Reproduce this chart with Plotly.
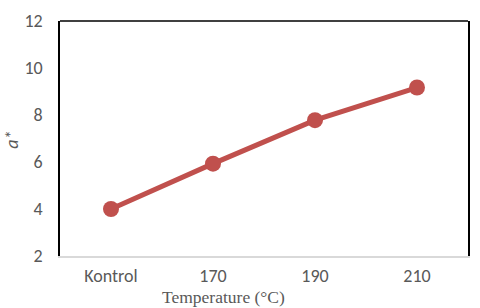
import plotly.graph_objects as go

categories = ["Kontrol", "170", "190", "210"]
a_star = [4.0, 5.93, 7.78, 9.17]
y_ticks = [2, 4, 6, 8, 10, 12]

W, H = 480, 308
L, R, T, B = 60, 10, 16, 52
pw, ph = W - L - R, H - T - B

fig = go.Figure()
fig.add_trace(go.Scatter(
    x=categories, y=a_star, mode="lines+markers",
    line=dict(color="#C0504D", width=5),
    marker=dict(color="#C0504D", size=16),
    showlegend=False, cliponaxis=False, hoverinfo="skip",
))

tick_font = dict(family="Carlito, Calibri, Liberation Sans, sans-serif", size=18, color="#595959")

fig.update_layout(
    width=W, height=H,
    margin=dict(l=L, r=R, t=T, b=B),
    paper_bgcolor="white", plot_bgcolor="white",
    font=tick_font,
    xaxis=dict(type="category", range=[-0.5, 3.5], showgrid=False, zeroline=False,
               showline=True, linecolor="#D9D9D9", linewidth=1.5,
               ticks="", ticklabelstandoff=3, tickfont=tick_font),
    yaxis=dict(range=[2, 12], tickvals=y_ticks, showgrid=False, zeroline=False,
               showline=True, linecolor="black", linewidth=1.5, mirror=True,
               ticks="", ticklabelstandoff=12, tickfont=tick_font),
    shapes=[dict(type="line", xref="paper", yref="paper", x0=0, x1=1, y0=1, y1=1,
                 line=dict(color="black", width=1.5))],
    annotations=[
        dict(text="Temperature (°C)", xref="paper", yref="paper",
             x=(224 - L) / pw, y=-(298 - (T + ph)) / ph, xanchor="center", yanchor="middle",
             showarrow=False,
             font=dict(family="Liberation Serif, Times New Roman, serif", size=17.5, color="#595959")),
        dict(text="<i>a*</i>", xref="paper", yref="paper",
             x=(12 - L) / pw, y=1 - (137 - T) / ph, xanchor="center", yanchor="middle",
             textangle=-90, showarrow=False,
             font=dict(family="Carlito, Calibri, Liberation Sans, sans-serif", size=18, color="#595959")),
    ],
)

fig.write_html("out.html", config={"displayModeBar": False},
               post_script="document.body.style.margin='0';")
